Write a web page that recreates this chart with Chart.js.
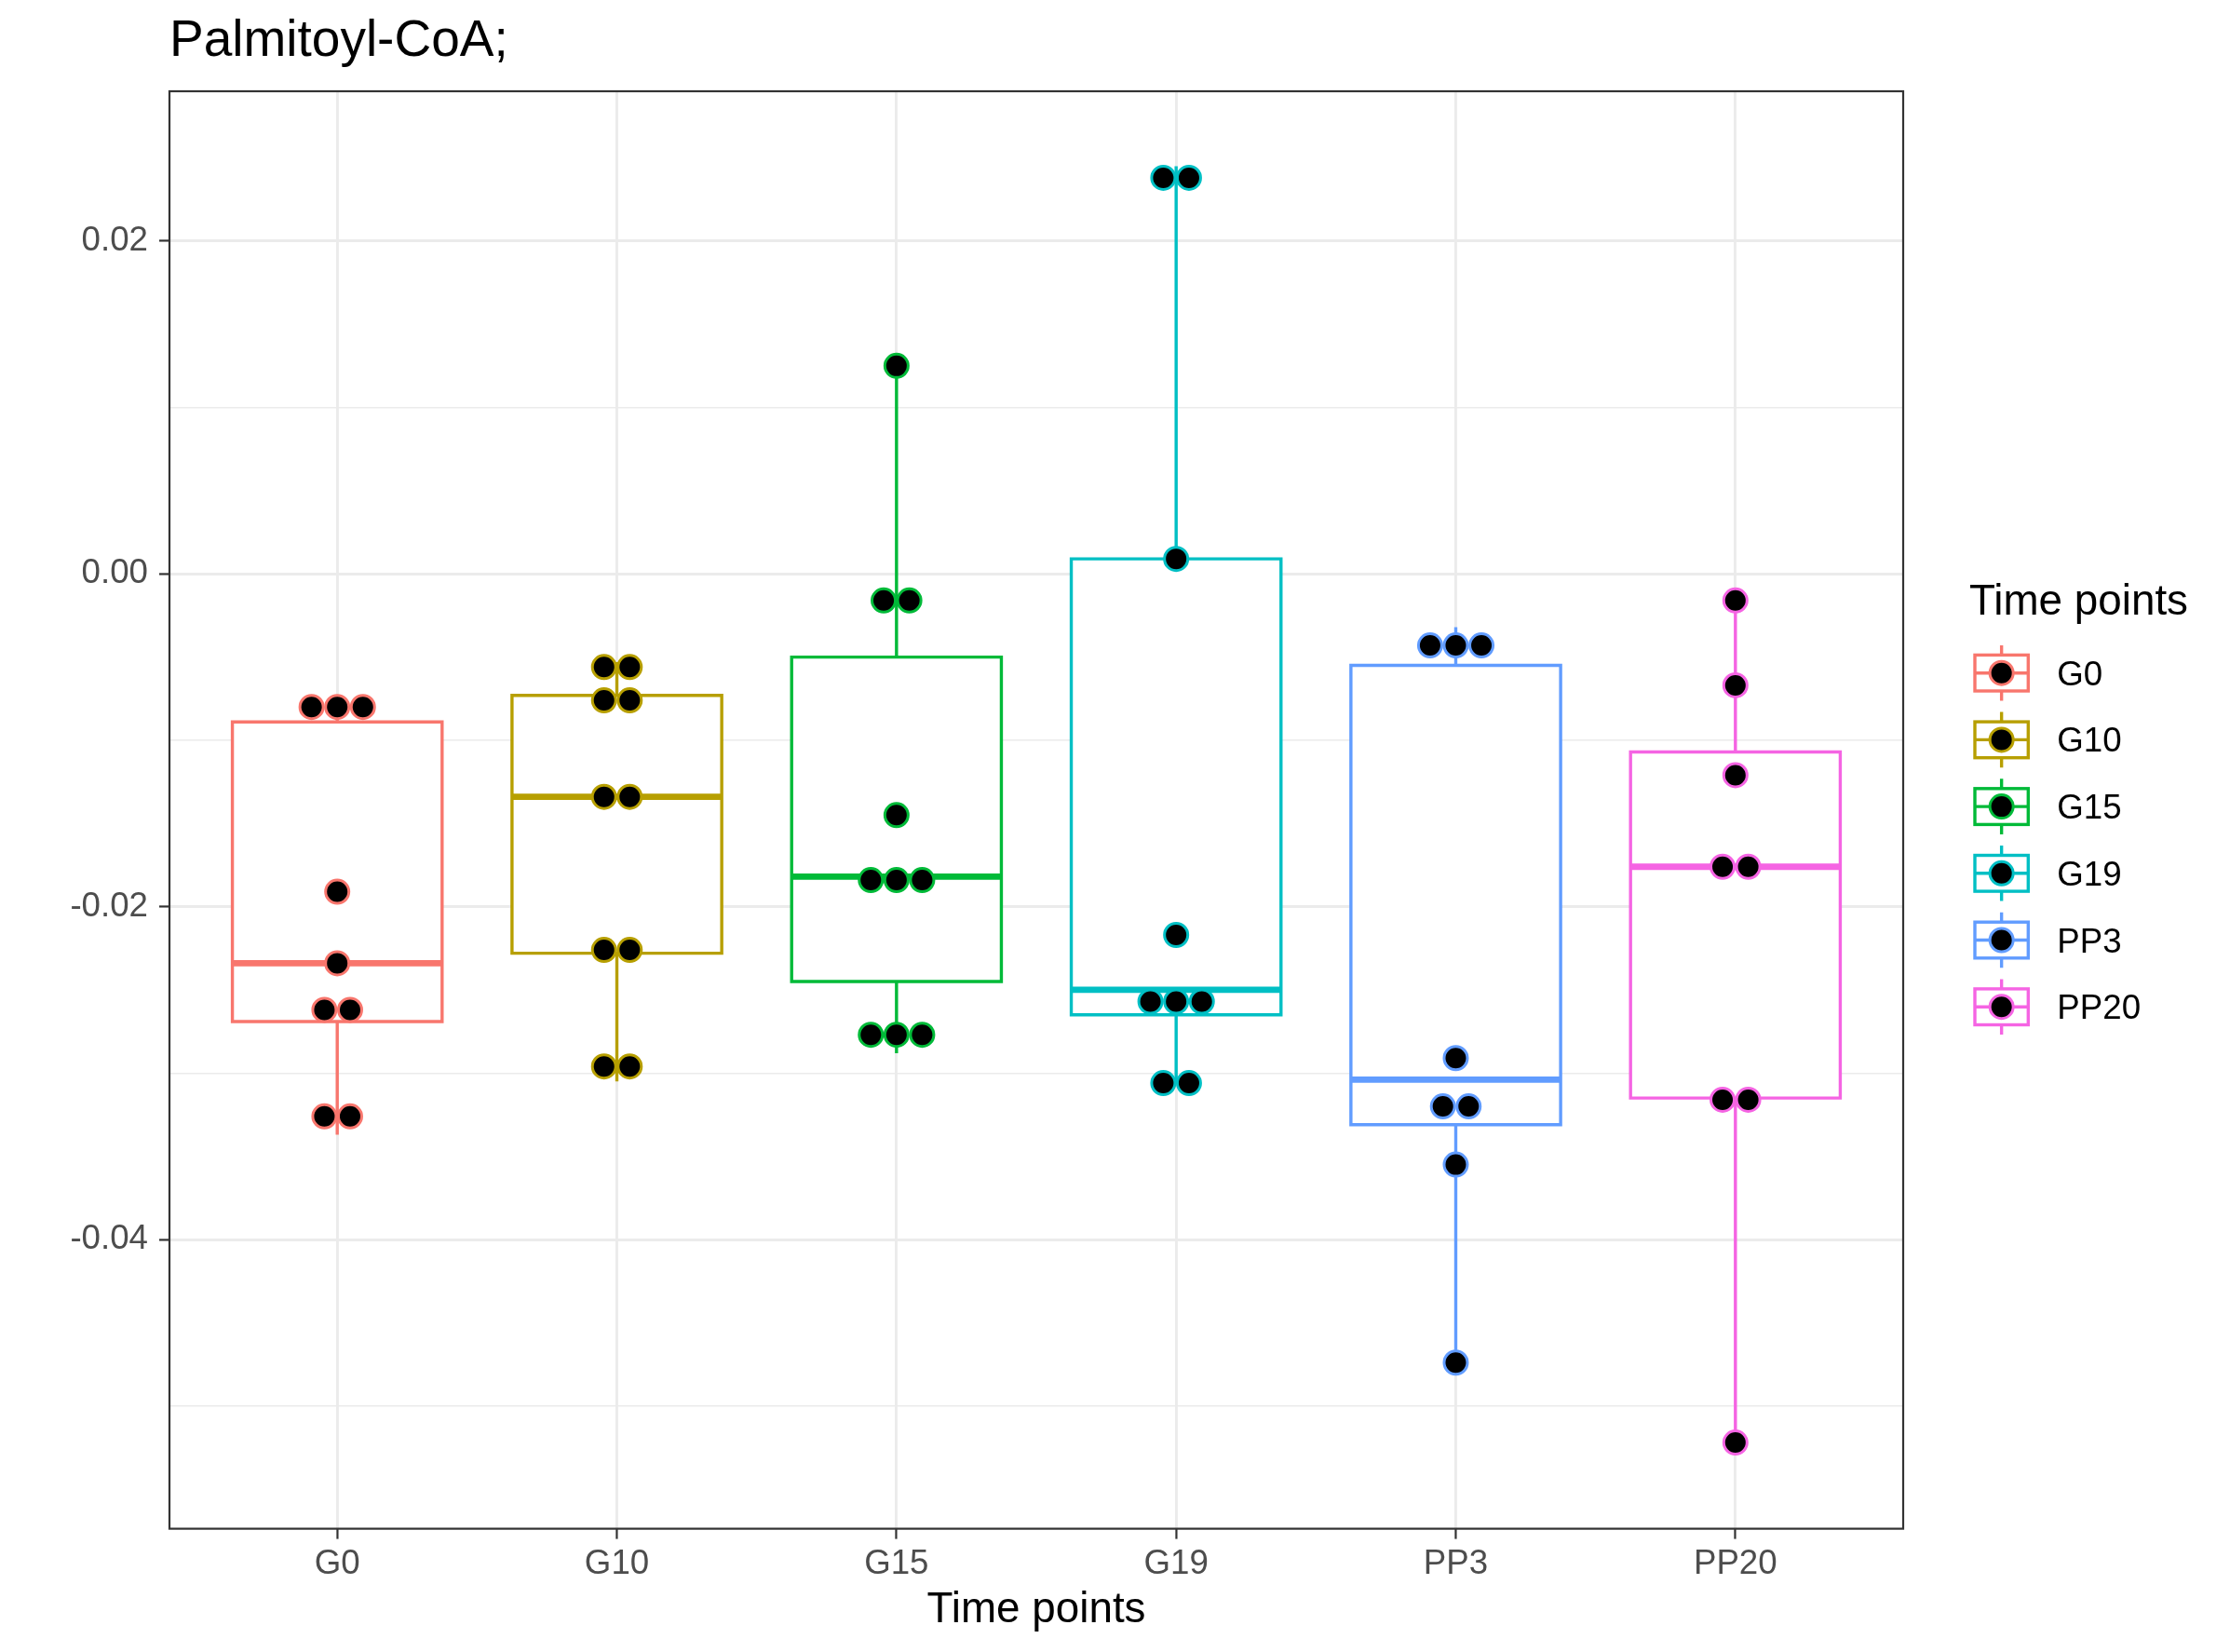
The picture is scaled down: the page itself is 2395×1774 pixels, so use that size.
<!DOCTYPE html>
<html>
<head>
<meta charset="utf-8">
<title>Palmitoyl-CoA;</title>
<script src="https://cdn.jsdelivr.net/npm/chart.js@4.4.1/dist/chart.umd.min.js"></script>
<style>
  html, body { margin: 0; padding: 0; background: #fff; }
  canvas { display: block; }
</style>
</head>
<body>
<canvas id="chart" width="2395" height="1774"></canvas>
<script>
const categories = ['G0', 'G10', 'G15', 'G19', 'PP3', 'PP20'];
const colors = ['#F8766D', '#B79F00', '#00BA38', '#00BFC4', '#619CFF', '#F564E3'];

// boxplot statistics per time point
const whiskerLow = [-0.0337, -0.0305, -0.0288, -0.0306, -0.0474, -0.0522];
const q1 = [-0.0269, -0.0228, -0.0245, -0.0265, -0.0331, -0.0315];
const median = [-0.0234, -0.0134, -0.0182, -0.0250, -0.0304, -0.0176];
const q3 = [-0.0089, -0.0073, -0.0050, 0.0009, -0.0055, -0.0107];
const whiskerHigh = [-0.0078, -0.0053, 0.0125, 0.0245, -0.0032, -0.0015];

// dotplot points (binned values)
const dotsG0 = [-0.0080, -0.0080, -0.0080, -0.0191, -0.0234, -0.0262, -0.0262, -0.0326, -0.0326];
const dotsG10 = [-0.0056, -0.0056, -0.0076, -0.0076, -0.0134, -0.0134, -0.0226, -0.0226, -0.0296, -0.0296];
const dotsG15 = [0.0125, -0.0016, -0.0016, -0.0145, -0.0184, -0.0184, -0.0184, -0.0277, -0.0277, -0.0277];
const dotsG19 = [0.0238, 0.0238, 0.0009, -0.0217, -0.0257, -0.0257, -0.0257, -0.0306, -0.0306];
const dotsPP3 = [-0.0043, -0.0043, -0.0043, -0.0291, -0.0320, -0.0320, -0.0355, -0.0474];
const dotsPP20 = [-0.0016, -0.0067, -0.0121, -0.0176, -0.0176, -0.0316, -0.0316, -0.0522];
const dotGroups = [dotsG0, dotsG10, dotsG15, dotsG19, dotsPP3, dotsPP20];

const yTicks = [-0.05, -0.04, -0.03, -0.02, -0.01, 0, 0.01, 0.02];
const yMin = -0.05738;
const yMax = 0.02900;

const FONT = '"Liberation Sans", Arial, Helvetica, sans-serif';
const boxHalf = 0.375;
const dotStep = 0.0918;

const isMajor = v => Math.abs(Math.round(v * 100)) % 2 === 0;
const fmt = v => (Math.abs(v) < 1e-9 ? 0 : v).toFixed(2);

const datasets = [];

categories.forEach((cat, i) => {
    const x = i + 1;
    const col = colors[i];

    // stacked dots, centred on the category
    const counts = new Map();
    dotGroups[i].forEach(v => counts.set(v, (counts.get(v) || 0) + 1));
    const pts = [];
    counts.forEach((n, v) => {
        for (let j = 0; j < n; j++) pts.push({ x: x + (j - (n - 1) / 2) * dotStep, y: v });
    });
    datasets.push({
        type: 'scatter', label: cat, order: 0, data: pts,
        pointRadius: 12.5, pointHoverRadius: 12.5, pointBorderWidth: 3,
        pointBackgroundColor: '#000000', pointBorderColor: col
    });

    // median
    datasets.push({
        type: 'line', order: 1, borderColor: col, borderWidth: 6.8, borderCapStyle: 'butt',
        pointRadius: 0, pointHitRadius: 0, fill: false,
        data: [{ x: x - boxHalf, y: median[i] }, { x: x + boxHalf, y: median[i] }]
    });

    // box
    datasets.push({
        type: 'line', order: 2, borderColor: col, borderWidth: 3.4,
        borderJoinStyle: 'miter', borderCapStyle: 'square',
        backgroundColor: '#ffffff', fill: 'shape',
        pointRadius: 0, pointHitRadius: 0, tension: 0,
        data: [
            { x: x - boxHalf, y: q1[i] }, { x: x + boxHalf, y: q1[i] },
            { x: x + boxHalf, y: q3[i] }, { x: x - boxHalf, y: q3[i] },
            { x: x - boxHalf, y: q1[i] }
        ]
    });

    // whiskers
    datasets.push({
        type: 'line', order: 3, borderColor: col, borderWidth: 3.4, borderCapStyle: 'butt',
        pointRadius: 0, pointHitRadius: 0, fill: false, spanGaps: false,
        data: [
            { x: x, y: q3[i] }, { x: x, y: whiskerHigh[i] },
            { x: x, y: null },
            { x: x, y: q1[i] }, { x: x, y: whiskerLow[i] }
        ]
    });
});

const panelBorder = {
    id: 'panelBorder',
    afterDatasetsDraw(chart) {
        const { ctx, chartArea: a } = chart;
        ctx.save();
        ctx.strokeStyle = '#333333';
        ctx.lineWidth = 2.2;
        ctx.strokeRect(a.left, a.top, a.right - a.left, a.bottom - a.top);
        ctx.restore();
    }
};

// ggplot-like legend with boxplot keys
const boxLegend = {
    id: 'boxLegend',
    afterDraw(chart) {
        const ctx = chart.ctx;
        const left = chart.chartArea.right + 77;
        const keyW = 57.3, keyH = 38.6, step = 71.7;
        const firstY = 722.7;
        ctx.save();
        ctx.fillStyle = '#000000';
        ctx.font = '45.8px ' + FONT;
        ctx.textBaseline = 'alphabetic';
        ctx.fillText('Time points', left - 6, 660);
        categories.forEach((cat, i) => {
            const cy = firstY + i * step;
            const cx = left + keyW / 2;
            ctx.strokeStyle = colors[i];
            ctx.lineWidth = 3.4;
            ctx.beginPath();
            ctx.moveTo(cx, cy - keyH / 2 - 10.5); ctx.lineTo(cx, cy - keyH / 2);
            ctx.moveTo(cx, cy + keyH / 2); ctx.lineTo(cx, cy + keyH / 2 + 10.5);
            ctx.moveTo(left, cy); ctx.lineTo(left + keyW, cy);
            ctx.stroke();
            ctx.strokeRect(left, cy - keyH / 2, keyW, keyH);
            ctx.beginPath();
            ctx.arc(cx, cy, 12.5, 0, Math.PI * 2);
            ctx.fillStyle = '#000000';
            ctx.fill();
            ctx.lineWidth = 3;
            ctx.stroke();
            ctx.fillStyle = '#000000';
            ctx.font = '36.7px ' + FONT;
            ctx.fillText(cat, left + 88.3, cy + 13);
        });
        ctx.restore();
    }
};

Chart.defaults.font.family = FONT;

new Chart(document.getElementById('chart'), {
    type: 'line',
    data: { datasets },
    options: {
        responsive: false,
        animation: false,
        events: [],
        layout: { padding: { left: 0, right: 351, top: 0, bottom: 0 } },
        scales: {
            x: {
                type: 'linear', min: 0.4, max: 6.6,
                afterFit: s => { s.height = 132.4; },
                afterBuildTicks: s => { s.ticks = categories.map((c, i) => ({ value: i + 1 })); },
                ticks: {
                    autoSkip: false, maxRotation: 0, padding: 5, color: '#4D4D4D',
                    font: { size: 36.7 },
                    callback: v => categories[Math.round(v) - 1]
                },
                grid: { color: '#EBEBEB', lineWidth: 2.9, tickLength: 11, tickColor: '#333333', tickWidth: 2.2 },
                border: { display: false },
                title: {
                    display: true, text: 'Time points', color: '#000000',
                    font: { size: 45.8 }, padding: { top: 0, bottom: 17 }
                }
            },
            y: {
                type: 'linear', min: yMin, max: yMax,
                afterFit: s => { s.width = 182; },
                afterBuildTicks: s => { s.ticks = yTicks.map(v => ({ value: v })); },
                ticks: {
                    autoSkip: false, padding: 12, color: '#4D4D4D',
                    font: { size: 36.7 },
                    callback: v => isMajor(v) ? fmt(v) : ''
                },
                grid: {
                    color: '#EBEBEB',
                    lineWidth: c => isMajor(c.tick.value) ? 2.9 : 1.45,
                    tickLength: 11,
                    tickColor: c => isMajor(c.tick.value) ? '#333333' : 'rgba(0,0,0,0)',
                    tickWidth: 2.2
                },
                border: { display: false }
            }
        },
        plugins: {
            legend: { display: false },
            tooltip: { enabled: false },
            title: {
                display: true, text: 'Palmitoyl-CoA;', align: 'start', color: '#000000', fullSize: false,
                font: { size: 55, weight: 'normal' }, padding: { top: 12, bottom: 20 }
            }
        }
    },
    plugins: [panelBorder, boxLegend]
});
</script>
</body>
</html>
